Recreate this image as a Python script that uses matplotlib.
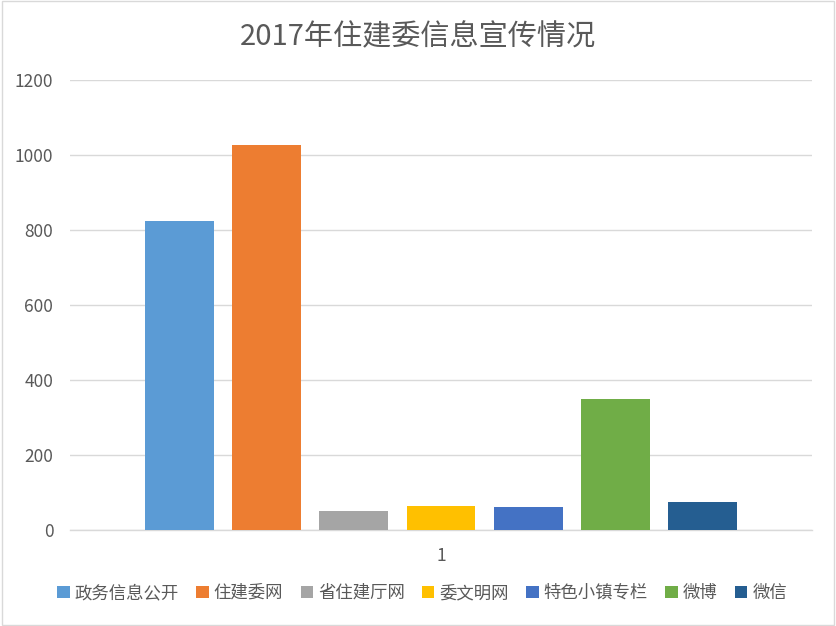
import matplotlib
matplotlib.use("Agg")
import matplotlib.pyplot as plt
from matplotlib.patches import Rectangle

plt.rcParams['font.family'] = ['Noto Sans CJK SC', 'DejaVu Sans']

title = "2017年住建委信息宣传情况"
series_names = ["政务信息公开", "住建委网", "省住建厅网", "委文明网", "特色小镇专栏", "微博", "微信"]
values = [824, 1027, 51, 64, 61, 349, 75]
colors = ["#5B9BD5", "#ED7D31", "#A5A5A5", "#FFC000", "#4472C4", "#70AD47", "#255E91"]
category = "1"
yticks = [0, 200, 400, 600, 800, 1000, 1200]

W, H = 836, 626
fig = plt.figure(figsize=(W / 100, H / 100), dpi=100)
ax = fig.add_axes([70 / W, (H - 530) / H, (812 - 70) / W, 450 / H])

n = len(values)
handles = []
for i, (name, v, c) in enumerate(zip(series_names, values, colors)):
    h = ax.bar(i - (n - 1) / 2, v, width=0.79, color=c, label=name, zorder=3)
    handles.append(h)

ax.set_xlim(-4.25, 4.25)
ax.set_ylim(0, 1200)
ax.set_yticks(yticks)
ax.set_xticks([0])
ax.set_xticklabels([category])
ax.grid(axis="y", color="#D9D9D9", linewidth=1, zorder=0)
for s in ["top", "right", "left"]:
    ax.spines[s].set_visible(False)
ax.spines["bottom"].set_color("#D9D9D9")
ax.spines["bottom"].set_linewidth(1)
ax.tick_params(axis="both", length=0, colors="#595959", labelsize=12.5)
ax.tick_params(axis="y", pad=12)
ax.tick_params(axis="x", pad=12)

fig.text(0.5, 1 - 37 / H, title, ha="center", va="center", fontsize=21, color="#595959")

fig.legend(handles=handles, labels=series_names, loc="center", ncol=7,
           bbox_to_anchor=(0.505, 1 - 593 / H), frameon=False, fontsize=12.5,
           labelcolor="#595959", handlelength=0.7, handleheight=0.7,
           handletextpad=0.3, columnspacing=1.0)

fig.patches.append(Rectangle((0.002, 0.002), 0.996, 0.996, transform=fig.transFigure,
                             fill=False, edgecolor="#D9D9D9", linewidth=1))

fig.savefig("out.png", dpi=100, facecolor="white")
